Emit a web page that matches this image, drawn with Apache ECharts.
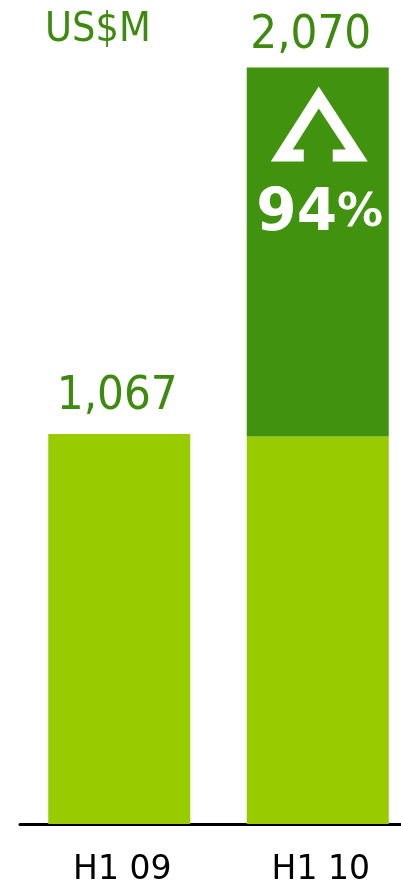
<!DOCTYPE html>
<html>
<head>
<meta charset="utf-8">
<title>Revenue H1 09 vs H1 10</title>
<script src="https://cdn.jsdelivr.net/npm/echarts@6/dist/echarts.min.js"></script>
<style>
  html, body { margin: 0; padding: 0; background: #ffffff; }
  #chart { width: 401px; height: 888px; }
</style>
</head>
<body>
<div id="chart"></div>
<script>
// Half-year periods on the category axis
const categories = ['H1 09', 'H1 10'];
// Lower (base) part of each bar, US$M
const baseValues = [1067, 1060];
// Growth added on top of the base in H1 10, US$M
const growthValues = [null, 1010];
const unitLabel = 'US$M';

const LIGHT = '#99cc00';
const DARK = '#41920f';
const TEXT_GREEN = '#3d8a0f';
const FONT = '"DejaVu Sans Condensed", "DejaVu Sans", sans-serif';

const totals = baseValues.map((v, i) => v + (growthValues[i] || 0));
const growthPct = Math.round((totals[1] - totals[0]) / totals[0] * 100);
const fmt = v => v.toLocaleString('en-US');

const valueLabel = {
  show: true,
  position: 'top',
  distance: 14,
  color: TEXT_GREEN,
  fontFamily: FONT,
  fontSize: 47,
  formatter: p => fmt(totals[p.dataIndex])
};

const chart = echarts.init(document.getElementById('chart'), null, { renderer: 'canvas' });

const option = {
  animation: false,
  // the plot area runs past the right edge so the axis line reaches it
  grid: { left: 20, width: 397, top: 20, bottom: 64, outerBoundsMode: 'none', containLabel: false },
  xAxis: {
    type: 'category',
    data: categories,
    axisLine: { show: true, lineStyle: { color: '#000000', width: 3 } },
    axisTick: { show: false },
    axisLabel: {
      color: '#000000',
      fontFamily: '"DejaVu Sans", sans-serif',
      fontSize: 33,
      margin: 30,
      padding: [0, 0, 0, 6]
    }
  },
  yAxis: {
    type: 'value',
    min: 0,
    max: 2200,
    show: false,
    splitLine: { show: false }
  },
  series: [
    {
      type: 'bar',
      stack: 'total',
      barWidth: 142,
      itemStyle: { color: LIGHT },
      data: baseValues.map((v, i) => ({
        value: v,
        label: growthValues[i] ? { show: false } : Object.assign({}, valueLabel, { offset: [-2, 0] })
      }))
    },
    {
      type: 'bar',
      stack: 'total',
      barWidth: 142,
      itemStyle: { color: DARK },
      data: growthValues.map(v => v === null ? '-' : {
        value: v,
        label: Object.assign({}, valueLabel, { offset: [-7, 0], distance: 8 })
      })
    }
  ]
};

chart.setOption(option);

// Unit caption plus growth badge (up arrow + percentage) inside the dark segment
function drawBadge() {
  const top = chart.convertToPixel({ gridIndex: 0 }, [1, totals[1]]);
  const cx = top[0] + 1;
  const y0 = top[1];
  const arrow = [
    [-48, 94], [0, 19], [49, 94], [14, 94], [14, 82], [27, 82],
    [0, 41], [-26, 82], [-15, 82], [-15, 94]
  ].map(p => [cx + p[0], y0 + p[1]]);
  chart.setOption({
    graphic: [
      {
        type: 'text',
        left: 45,
        top: 10,
        style: { text: unitLabel, fill: TEXT_GREEN, font: '41px ' + FONT }
      },
      {
        type: 'polygon',
        shape: { points: arrow },
        style: { fill: '#ffffff' },
        z: 10
      },
      {
        type: 'text',
        x: cx + 1,
        y: y0 + 176,
        z: 10,
        style: {
          text: '{n|' + growthPct + '}{p|%}',
          align: 'center',
          verticalAlign: 'bottom',
          rich: {
            n: { fill: '#ffffff', fontFamily: '"DejaVu Sans", sans-serif', fontWeight: 'bold', fontSize: 58 },
            p: { fill: '#ffffff', fontFamily: '"DejaVu Sans", sans-serif', fontWeight: 'bold', fontSize: 46 }
          }
        }
      }
    ]
  });
}
drawBadge();
</script>
</body>
</html>
